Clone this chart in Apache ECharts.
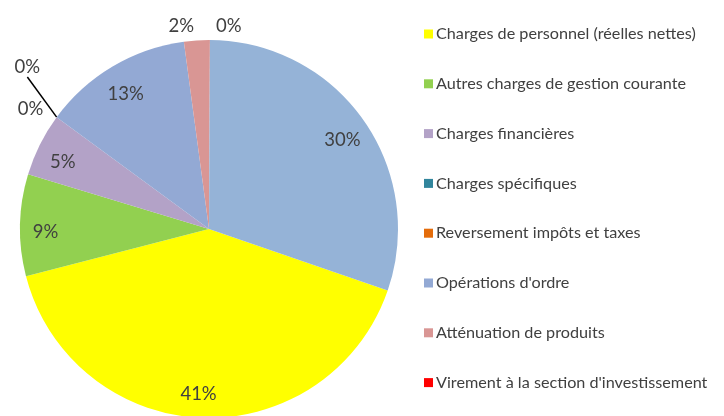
<!DOCTYPE html>
<html>
<head>
<meta charset="utf-8">
<script src="https://cdn.jsdelivr.net/npm/echarts@6/dist/echarts.min.js"></script>
<style>
  html, body { margin: 0; padding: 0; background: #fff; }
  #chart { width: 724px; height: 416px; }
</style>
</head>
<body>
<div id="chart"></div>
<script>
// postes de dépenses (le dernier, 30 %, n'apparait pas dans la légende)
const categories = [
  'Charges de personnel (réelles nettes)',
  'Autres charges de gestion courante',
  'Charges financières',
  'Charges spécifiques',
  'Reversement impôts et taxes',
  "Opérations d'ordre",
  'Atténuation de produits',
  "Virement à la section d'investissement",
  'Autres opérations'
];
const values = [40.7, 8.7, 5.4, 0, 0, 12.8, 2.2, 0, 30.2];
const legendNames = categories.slice(0, 8);

const colors = ['#ffff00', '#92d050', '#b3a2c7', '#31859c', '#e46c0a', '#93a9d4', '#d99694', '#ff0000', '#95b3d7'];

const chart = echarts.init(document.getElementById('chart'));

const pieData = categories.map((name, i) => ({ name: name, value: values[i] }));
const total = values.reduce((a, b) => a + b, 0);
const isSmall = (i) => values[i] / total < 0.03;

// labels: dans la part pour les grosses, à l'extérieur pour les petites
const labelData = categories.map((name, i) => {
  const small = isSmall(i);
  return {
    name: name,
    value: values[i],
    label: { position: small ? 'outside' : 'inside' },
    labelLine: small ? { show: i === 3, length: i === 3 ? 18 : 14, length2: 0 } : { show: false }
  };
});

const fmt = (p) => Math.round(p.percent) + '%';

chart.setOption({
  animation: false,
  color: colors,
  legend: {
    data: legendNames,
    orient: 'vertical',
    left: 419,
    top: 21,
    icon: 'rect',
    itemWidth: 9,
    itemHeight: 9,
    itemGap: 33.8,
    selectedMode: false,
    textStyle: {
      fontFamily: 'Lato',
      fontSize: 16.2,
      color: '#404040',
      lineHeight: 16,
      padding: [0, 0, 0, -2]
    }
  },
  series: [
    {
      type: 'pie',
      center: [209, 229],
      radius: [0, 189],
      startAngle: -19,
      clockwise: true,
      silent: true,
      label: { show: false },
      labelLine: { show: false },
      itemStyle: { borderWidth: 0 },
      data: pieData
    },
    {
      type: 'pie',
      center: [209, 229],
      radius: [132, 189],
      startAngle: -19,
      clockwise: true,
      silent: true,
      avoidLabelOverlap: false,
      itemStyle: { color: 'rgba(0,0,0,0)', borderWidth: 0 },
      label: {
        show: true,
        formatter: fmt,
        fontFamily: 'Lato',
        fontSize: 18.5,
        color: '#404040',
        overflow: 'none',
        distanceToLabelLine: 2
      },
      labelLine: {
        lineStyle: { color: '#000', width: 1.5 }
      },
      labelLayout: (p) => {
        const r = p.labelRect;
        if (p.dataIndex === 3) return { x: r.x + r.width, y: r.y + r.height / 2 - 39, align: 'right', verticalAlign: 'middle' };
        if (p.dataIndex === 7) return { dx: 4 };
        if (p.dataIndex === 0) return { dx: -4, dy: 2 };
        if (!isSmall(p.dataIndex)) return { dy: 6 };
        return {};
      },
      data: labelData
    }
  ]
});
</script>
</body>
</html>
